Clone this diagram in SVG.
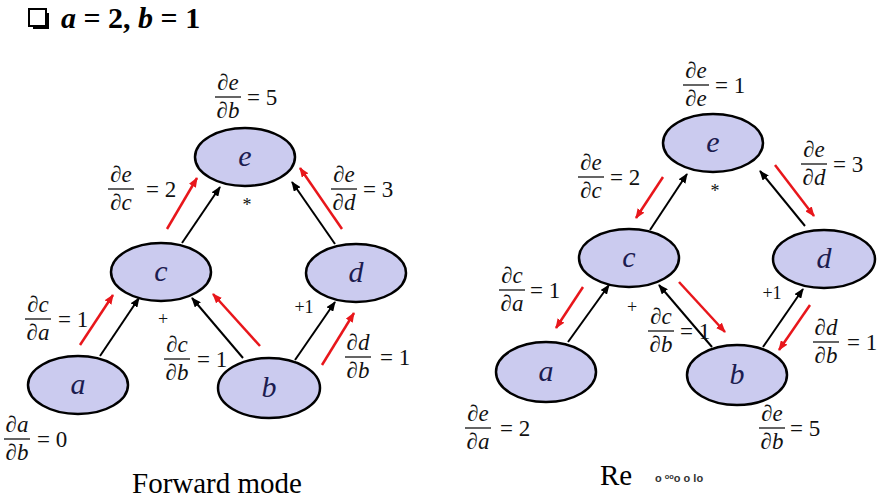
<svg xmlns="http://www.w3.org/2000/svg" width="883" height="500" viewBox="0 0 883 500">
<defs>
<marker id="ab" markerUnits="userSpaceOnUse" markerWidth="10" markerHeight="8" refX="9" refY="4" orient="auto"><path d="M0,0 L10,4 L0,8 Z" fill="#000"/></marker>
<marker id="ar" markerUnits="userSpaceOnUse" markerWidth="10" markerHeight="8" refX="9" refY="4" orient="auto"><path d="M0,0 L10,4 L0,8 Z" fill="#e8161b"/></marker>
</defs>
<style>
.node ellipse{fill:#cbcbef;stroke:#000;stroke-width:2.5}
.node text{font-family:"Liberation Serif",serif;font-style:italic;font-size:30px;fill:#1c1c50;text-anchor:middle}
.bk{stroke:#000;stroke-width:2;fill:none;marker-end:url(#ab)}
.rd{stroke:#e8161b;stroke-width:2.5;fill:none;marker-end:url(#ar)}
.num{font-family:"Liberation Serif",serif;font-style:italic;font-size:23px;fill:#111;text-anchor:middle}
.eq{font-family:"Liberation Serif",serif;font-size:23px;fill:#111}
.fl{stroke:#111;stroke-width:1.3}
.op{font-family:"Liberation Serif",serif;font-size:18px;fill:#111;text-anchor:middle}
.cap{font-family:"Liberation Serif",serif;font-size:29px;fill:#000}
</style>
<rect width="883" height="500" fill="#fff"/>
<g id="title">
<rect x="29" y="9" width="17" height="17" fill="#fff" stroke="#000" stroke-width="2"/>
<rect x="33" y="26" width="16" height="3" fill="#000"/>
<rect x="46" y="13" width="3" height="16" fill="#000"/>
<text x="61" y="28" font-family="Liberation Serif, serif" font-weight="bold" font-size="30" fill="#000"><tspan font-style="italic">a</tspan> = 2, <tspan font-style="italic">b</tspan> = 1</text>
</g>
<g id="L-e" class="node"><ellipse cx="245" cy="157" rx="50" ry="29"/><text x="245" y="166">e</text></g>
<g id="L-c" class="node"><ellipse cx="161" cy="272" rx="50" ry="29"/><text x="161" y="281">c</text></g>
<g id="L-d" class="node"><ellipse cx="356" cy="273" rx="50" ry="29"/><text x="356" y="282">d</text></g>
<g id="L-a" class="node"><ellipse cx="78" cy="385" rx="50" ry="29"/><text x="78" y="394">a</text></g>
<g id="L-b" class="node"><ellipse cx="269" cy="388" rx="51" ry="30"/><text x="269" y="397">b</text></g>
<g id="R-e" class="node"><ellipse cx="713" cy="143" rx="50" ry="29"/><text x="713" y="152">e</text></g>
<g id="R-c" class="node"><ellipse cx="629" cy="258" rx="50" ry="29"/><text x="629" y="267">c</text></g>
<g id="R-d" class="node"><ellipse cx="824" cy="259" rx="51" ry="29"/><text x="824" y="268">d</text></g>
<g id="R-a" class="node"><ellipse cx="546" cy="372" rx="50" ry="30"/><text x="546" y="381">a</text></g>
<g id="R-b" class="node"><ellipse cx="737" cy="375" rx="50" ry="30"/><text x="737" y="384">b</text></g>
<g id="connectors">
<line class="bk" x1="100" y1="356" x2="139" y2="298"/>
<line class="bk" x1="243" y1="358" x2="192" y2="298"/>
<line class="bk" x1="295" y1="360" x2="335" y2="302"/>
<line class="bk" x1="182" y1="243" x2="220" y2="187"/>
<line class="bk" x1="335" y1="244" x2="292" y2="182"/>
<line class="rd" x1="80" y1="345" x2="113" y2="295"/>
<line class="rd" x1="260" y1="346" x2="213" y2="294"/>
<line class="rd" x1="322" y1="365" x2="354" y2="313"/>
<line class="rd" x1="167" y1="229" x2="197" y2="178"/>
<line class="rd" x1="342" y1="229" x2="300" y2="168"/>
<line class="bk" x1="650" y1="230" x2="687" y2="174"/>
<line class="rd" x1="663" y1="177" x2="636" y2="218"/>
<line class="bk" x1="805" y1="226" x2="760" y2="171"/>
<line class="rd" x1="775" y1="165" x2="814" y2="216"/>
<line class="bk" x1="568" y1="342" x2="609" y2="285"/>
<line class="rd" x1="583" y1="287" x2="556" y2="328"/>
<line class="bk" x1="712" y1="347" x2="659" y2="285"/>
<line class="rd" x1="679" y1="282" x2="725" y2="332"/>
<line class="bk" x1="763" y1="347" x2="803" y2="289"/>
<line class="rd" x1="810" y1="305" x2="779" y2="350"/>
</g>
<g id="labels">
<text class="num" x="228" y="90">∂e</text><line class="fl" x1="215" y1="97" x2="241" y2="97"/><text class="num" x="228" y="118">∂b</text><text class="eq" x="247" y="105">= 5</text>
<text class="num" x="121" y="182">∂e</text><line class="fl" x1="108" y1="189" x2="134" y2="189"/><text class="num" x="121" y="210">∂c</text><text class="eq" x="146" y="197">= 2</text>
<text class="num" x="344" y="182">∂e</text><line class="fl" x1="331" y1="189" x2="357" y2="189"/><text class="num" x="344" y="210">∂d</text><text class="eq" x="363" y="197">= 3</text>
<text class="num" x="38" y="312">∂c</text><line class="fl" x1="25" y1="319" x2="51" y2="319"/><text class="num" x="38" y="340">∂a</text><text class="eq" x="58" y="327">= 1</text>
<text class="num" x="177" y="352">∂c</text><line class="fl" x1="164" y1="359" x2="190" y2="359"/><text class="num" x="177" y="380">∂b</text><text class="eq" x="197" y="367">= 1</text>
<text class="num" x="358" y="350">∂d</text><line class="fl" x1="345" y1="357" x2="371" y2="357"/><text class="num" x="358" y="378">∂b</text><text class="eq" x="380" y="365">= 1</text>
<text class="num" x="17" y="432">∂a</text><line class="fl" x1="4" y1="439" x2="30" y2="439"/><text class="num" x="17" y="460">∂b</text><text class="eq" x="37" y="447">= 0</text>
<text class="op" x="247" y="211">*</text>
<text class="op" x="163" y="325">+</text>
<text class="op" x="304" y="313">+1</text>
<text class="cap" x="132" y="493">Forward mode</text>
<text class="num" x="696" y="78">∂e</text><line class="fl" x1="683" y1="85" x2="709" y2="85"/><text class="num" x="696" y="106">∂e</text><text class="eq" x="715" y="93">= 1</text>
<text class="num" x="591" y="170">∂e</text><line class="fl" x1="578" y1="177" x2="604" y2="177"/><text class="num" x="591" y="198">∂c</text><text class="eq" x="610" y="185">= 2</text>
<text class="num" x="814" y="157">∂e</text><line class="fl" x1="801" y1="164" x2="827" y2="164"/><text class="num" x="814" y="185">∂d</text><text class="eq" x="833" y="172">= 3</text>
<text class="num" x="512" y="283">∂c</text><line class="fl" x1="499" y1="290" x2="525" y2="290"/><text class="num" x="512" y="311">∂a</text><text class="eq" x="530" y="298">= 1</text>
<text class="num" x="661" y="324">∂c</text><line class="fl" x1="648" y1="331" x2="674" y2="331"/><text class="num" x="661" y="352">∂b</text><text class="eq" x="680" y="339">= 1</text>
<text class="num" x="826" y="335">∂d</text><line class="fl" x1="813" y1="342" x2="839" y2="342"/><text class="num" x="826" y="363">∂b</text><text class="eq" x="847" y="350">= 1</text>
<text class="num" x="478" y="421">∂e</text><line class="fl" x1="465" y1="428" x2="491" y2="428"/><text class="num" x="478" y="449">∂a</text><text class="eq" x="500" y="436">= 2</text>
<text class="num" x="772" y="421">∂e</text><line class="fl" x1="759" y1="428" x2="785" y2="428"/><text class="num" x="772" y="449">∂b</text><text class="eq" x="790" y="436">= 5</text>
<text class="op" x="715" y="197">*</text>
<text class="op" x="632" y="313">+</text>
<text class="op" x="772" y="299">+1</text>
<text class="cap" x="600" y="485">Re</text>
<text x="655" y="482" font-family="Liberation Sans, sans-serif" font-weight="bold" font-size="11" fill="#333">o   ᵒᵒo  o     lo</text>
</g>
</svg>
